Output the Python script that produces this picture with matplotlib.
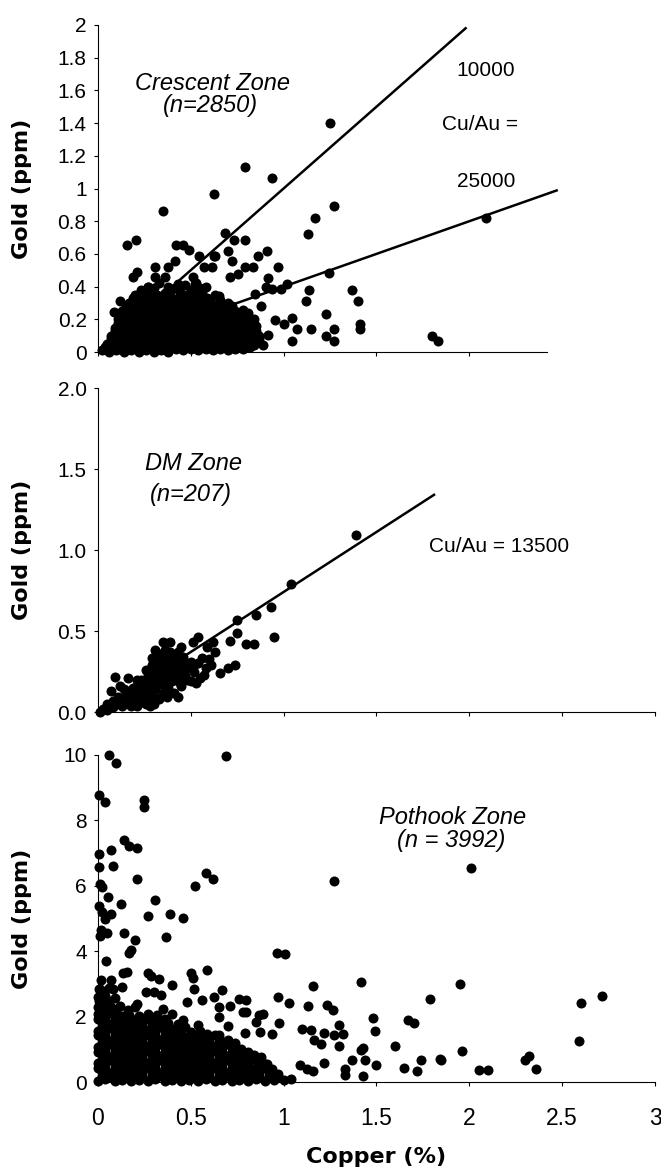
import numpy as np
import matplotlib.pyplot as plt

# Crescent Zone: dense cloud near the origin plus the scattered samples (Cu %, Au ppm)
crescent_core = [
    (0.02, 0.01), (0.06, 0.0), (0.1, 0.01), (0.14, 0.0), (0.18, 0.01), (0.22, 0.0), (0.26, 0.01),
    (0.3, 0.0), (0.34, 0.01), (0.38, 0.0), (0.42, 0.02), (0.46, 0.01), (0.5, 0.02), (0.54, 0.01),
    (0.58, 0.02), (0.62, 0.01), (0.66, 0.02), (0.7, 0.01), (0.74, 0.02), (0.78, 0.02), (0.82, 0.03),
    (0.04, 0.03), (0.08, 0.03), (0.12, 0.02), (0.16, 0.03), (0.2, 0.03), (0.24, 0.02), (0.28, 0.03),
    (0.32, 0.03), (0.36, 0.02), (0.4, 0.03), (0.44, 0.03), (0.48, 0.04), (0.52, 0.03), (0.56, 0.04),
    (0.6, 0.03), (0.64, 0.04), (0.68, 0.03), (0.72, 0.04), (0.76, 0.03), (0.8, 0.04), (0.84, 0.04),
    (0.05, 0.05), (0.09, 0.06), (0.13, 0.05), (0.17, 0.07), (0.21, 0.05), (0.25, 0.06), (0.29, 0.07),
    (0.33, 0.05), (0.37, 0.06), (0.41, 0.07), (0.45, 0.05), (0.49, 0.06), (0.53, 0.07), (0.57, 0.05),
    (0.61, 0.06), (0.65, 0.07), (0.69, 0.06), (0.73, 0.05), (0.77, 0.07), (0.81, 0.06), (0.85, 0.07),
    (0.07, 0.08), (0.11, 0.09), (0.15, 0.08), (0.19, 0.09), (0.23, 0.08), (0.27, 0.09), (0.31, 0.08),
    (0.35, 0.09), (0.39, 0.08), (0.43, 0.09), (0.47, 0.08), (0.51, 0.09), (0.55, 0.08), (0.59, 0.09),
    (0.63, 0.08), (0.67, 0.09), (0.71, 0.08), (0.75, 0.09), (0.79, 0.08), (0.83, 0.09), (0.87, 0.08),
    (0.07, 0.1), (0.11, 0.11), (0.15, 0.12), (0.19, 0.1), (0.23, 0.11), (0.27, 0.12), (0.31, 0.1),
    (0.35, 0.11), (0.39, 0.12), (0.43, 0.1), (0.47, 0.11), (0.51, 0.12), (0.55, 0.1), (0.59, 0.11),
    (0.63, 0.12), (0.67, 0.1), (0.71, 0.11), (0.75, 0.12), (0.79, 0.1), (0.83, 0.11), (0.87, 0.1),
    (0.09, 0.13), (0.13, 0.14), (0.17, 0.13), (0.21, 0.14), (0.25, 0.13), (0.29, 0.14), (0.33, 0.13),
    (0.37, 0.14), (0.41, 0.13), (0.45, 0.14), (0.49, 0.13), (0.53, 0.14), (0.57, 0.13), (0.61, 0.14),
    (0.65, 0.13), (0.69, 0.14), (0.73, 0.13), (0.77, 0.14), (0.81, 0.13), (0.85, 0.13),
    (0.09, 0.15), (0.13, 0.16), (0.17, 0.17), (0.21, 0.15), (0.25, 0.16), (0.29, 0.17), (0.33, 0.15),
    (0.37, 0.16), (0.41, 0.17), (0.45, 0.15), (0.49, 0.16), (0.53, 0.17), (0.57, 0.15), (0.61, 0.16),
    (0.65, 0.17), (0.69, 0.15), (0.73, 0.16), (0.77, 0.17), (0.81, 0.15), (0.85, 0.16),
    (0.11, 0.18), (0.15, 0.19), (0.19, 0.18), (0.23, 0.19), (0.27, 0.18), (0.31, 0.19), (0.35, 0.18),
    (0.39, 0.19), (0.43, 0.18), (0.47, 0.19), (0.51, 0.18), (0.55, 0.19), (0.59, 0.18), (0.63, 0.19),
    (0.67, 0.18), (0.71, 0.19), (0.75, 0.18), (0.79, 0.19), (0.83, 0.18),
    (0.11, 0.2), (0.15, 0.21), (0.19, 0.22), (0.23, 0.2), (0.27, 0.21), (0.31, 0.22), (0.35, 0.2),
    (0.39, 0.21), (0.43, 0.22), (0.47, 0.2), (0.51, 0.21), (0.55, 0.22), (0.59, 0.2), (0.63, 0.21),
    (0.67, 0.22), (0.71, 0.2), (0.75, 0.21), (0.8, 0.22), (0.84, 0.2),
    (0.13, 0.23), (0.17, 0.24), (0.21, 0.23), (0.25, 0.24), (0.29, 0.23), (0.33, 0.24), (0.37, 0.23),
    (0.41, 0.24), (0.45, 0.23), (0.49, 0.24), (0.53, 0.23), (0.57, 0.24), (0.61, 0.23), (0.65, 0.24),
    (0.69, 0.23), (0.73, 0.24), (0.77, 0.23), (0.81, 0.24),
    (0.13, 0.25), (0.17, 0.26), (0.21, 0.27), (0.25, 0.25), (0.29, 0.26), (0.33, 0.27), (0.37, 0.25),
    (0.41, 0.26), (0.45, 0.27), (0.49, 0.25), (0.53, 0.26), (0.57, 0.27), (0.61, 0.25), (0.65, 0.26),
    (0.69, 0.27), (0.74, 0.25), (0.78, 0.26),
    (0.15, 0.28), (0.19, 0.29), (0.23, 0.28), (0.27, 0.29), (0.31, 0.28), (0.35, 0.29), (0.39, 0.28),
    (0.43, 0.29), (0.47, 0.28), (0.51, 0.29), (0.55, 0.28), (0.59, 0.29), (0.63, 0.28), (0.67, 0.29),
    (0.72, 0.28),
    (0.17, 0.3), (0.21, 0.31), (0.25, 0.32), (0.29, 0.3), (0.33, 0.31), (0.37, 0.32), (0.41, 0.3),
    (0.45, 0.31), (0.49, 0.32), (0.53, 0.3), (0.57, 0.31), (0.61, 0.3), (0.66, 0.32), (0.7, 0.3),
    (0.19, 0.33), (0.23, 0.34), (0.27, 0.33), (0.31, 0.34), (0.35, 0.33), (0.39, 0.34), (0.43, 0.33),
    (0.47, 0.34), (0.51, 0.33), (0.55, 0.34), (0.59, 0.33), (0.65, 0.34),
    (0.2, 0.35), (0.24, 0.36), (0.28, 0.37), (0.32, 0.35), (0.36, 0.36), (0.44, 0.37), (0.48, 0.35),
    (0.52, 0.36), (0.56, 0.37), (0.63, 0.35),
    (0.23, 0.38), (0.3, 0.39), (0.42, 0.39), (0.5, 0.38), (0.55, 0.39),
    (0.27, 0.4), (0.33, 0.42), (0.38, 0.4), (0.47, 0.41), (0.53, 0.42), (0.58, 0.4),
]
crescent_outliers = [
    (1.25, 1.40), (0.795, 1.133), (0.94, 1.066), (0.624, 0.964), (0.353, 0.863), (1.27, 0.893),
    (1.17, 0.822), (1.13, 0.72), (2.09, 0.82), (0.157, 0.656), (0.203, 0.686), (0.42, 0.656),
    (0.46, 0.656), (0.49, 0.623), (0.687, 0.727), (0.733, 0.686), (0.795, 0.686), (0.70, 0.62),
    (0.912, 0.62), (0.86, 0.59), (0.544, 0.59), (0.629, 0.59), (0.97, 0.518), (1.247, 0.483),
    (1.136, 0.38), (1.12, 0.31), (1.366, 0.38), (1.40, 0.31), (1.228, 0.233), (1.145, 0.138),
    (1.23, 0.10), (1.27, 0.138), (1.27, 0.065), (1.41, 0.173), (1.41, 0.138), (1.80, 0.10),
    (1.83, 0.065), (1.044, 0.207), (1.07, 0.142), (1.044, 0.065), (1.0, 0.173), (0.956, 0.193),
    (0.917, 0.106), (0.89, 0.04), (1.016, 0.416), (0.986, 0.386), (0.94, 0.386), (0.917, 0.453),
    (0.906, 0.396), (0.848, 0.355), (0.876, 0.284), (0.836, 0.518), (0.79, 0.518), (0.756, 0.477),
    (0.71, 0.457), (0.72, 0.558), (0.617, 0.518), (0.571, 0.518), (0.624, 0.589), (0.797, 0.233),
    (0.82, 0.106), (0.733, 0.112), (0.703, 0.03), (0.664, 0.05), (0.376, 0.518), (0.306, 0.518),
    (0.417, 0.558), (0.364, 0.457), (0.306, 0.457), (0.21, 0.487), (0.19, 0.457), (0.272, 0.396),
    (0.226, 0.355), (0.122, 0.315), (0.088, 0.244), (0.525, 0.416), (0.514, 0.457), (0.433, 0.416),
    (0.40, 0.386),
]

# DM Zone samples
dm_core = [
    (0.01, 0.0), (0.03, 0.02), (0.05, 0.01), (0.05, 0.05), (0.08, 0.03), (0.08, 0.07), (0.1, 0.05),
    (0.11, 0.09), (0.13, 0.04), (0.13, 0.08), (0.15, 0.11), (0.16, 0.06), (0.17, 0.13), (0.19, 0.08),
    (0.2, 0.12), (0.21, 0.16), (0.22, 0.1), (0.23, 0.06), (0.24, 0.14), (0.25, 0.18), (0.26, 0.09),
    (0.27, 0.13), (0.28, 0.21), (0.28, 0.06), (0.29, 0.17), (0.3, 0.1), (0.3, 0.25), (0.31, 0.14),
    (0.32, 0.2), (0.32, 0.28), (0.33, 0.08), (0.34, 0.17), (0.34, 0.24), (0.35, 0.12), (0.35, 0.31),
    (0.36, 0.2), (0.37, 0.27), (0.37, 0.09), (0.38, 0.15), (0.38, 0.34), (0.39, 0.23), (0.4, 0.19),
    (0.4, 0.28), (0.41, 0.12), (0.42, 0.25), (0.42, 0.33), (0.43, 0.2), (0.44, 0.29), (0.45, 0.16),
    (0.45, 0.24), (0.46, 0.34), (0.47, 0.22), (0.48, 0.27), (0.5, 0.31), (0.5, 0.19), (0.52, 0.25),
    (0.54, 0.3), (0.55, 0.21), (0.58, 0.27), (0.6, 0.33), (0.33, 0.36), (0.36, 0.38), (0.31, 0.31),
    (0.27, 0.23), (0.24, 0.08), (0.18, 0.04), (0.21, 0.04), (0.28, 0.04), (0.3, 0.05),
    (0.14, 0.14), (0.19, 0.15), (0.23, 0.2), (0.26, 0.26), (0.29, 0.29), (0.33, 0.32), (0.36, 0.33),
    (0.39, 0.37), (0.43, 0.37), (0.26, 0.15), (0.31, 0.23), (0.35, 0.27), (0.4, 0.24),
    (0.07, 0.04), (0.12, 0.06), (0.18, 0.1), (0.22, 0.13), (0.25, 0.11), (0.28, 0.16), (0.33, 0.19),
    (0.37, 0.22), (0.41, 0.28), (0.44, 0.25), (0.47, 0.3), (0.52, 0.29), (0.2, 0.07), (0.26, 0.05),
]
dm_outliers = [
    (1.39, 1.09), (1.04, 0.79), (0.93, 0.65), (0.85, 0.6), (0.75, 0.565), (0.95, 0.46), (0.80, 0.42),
    (0.84, 0.42), (0.75, 0.49), (0.71, 0.44), (0.62, 0.43), (0.54, 0.46), (0.51, 0.43), (0.59, 0.40),
    (0.63, 0.37), (0.56, 0.335), (0.61, 0.29), (0.57, 0.23), (0.66, 0.24), (0.70, 0.27), (0.74, 0.29),
    (0.53, 0.18), (0.48, 0.20), (0.44, 0.18), (0.43, 0.09), (0.39, 0.43), (0.35, 0.43), (0.45, 0.40),
    (0.41, 0.345), (0.31, 0.38), (0.29, 0.335), (0.09, 0.215), (0.16, 0.21), (0.07, 0.13),
    (0.12, 0.16), (0.21, 0.20), (0.47, 0.29), (0.39, 0.31), (0.36, 0.27), (0.49, 0.27),
]

# Pothook Zone samples
pothook_core = [
    (0.0, 0.04), (0.04, 0.08), (0.09, 0.03), (0.13, 0.07), (0.18, 0.02), (0.22, 0.06), (0.27, 0.04),
    (0.31, 0.08), (0.36, 0.03), (0.4, 0.07), (0.45, 0.02), (0.49, 0.06), (0.54, 0.04), (0.58, 0.08),
    (0.63, 0.03), (0.67, 0.07), (0.72, 0.02), (0.76, 0.06), (0.81, 0.04), (0.85, 0.08), (0.9, 0.03),
    (0.95, 0.07), (1.0, 0.05),
    (0.02, 0.18), (0.06, 0.16), (0.11, 0.19), (0.15, 0.17), (0.2, 0.18), (0.24, 0.16), (0.29, 0.19),
    (0.33, 0.17), (0.38, 0.18), (0.42, 0.16), (0.47, 0.19), (0.51, 0.17), (0.56, 0.18), (0.6, 0.16),
    (0.65, 0.19), (0.69, 0.17), (0.74, 0.18), (0.78, 0.16), (0.83, 0.19), (0.87, 0.17), (0.92, 0.18),
    (0.97, 0.16),
    (0.02, 0.32), (0.06, 0.27), (0.11, 0.33), (0.15, 0.28), (0.2, 0.31), (0.24, 0.26), (0.29, 0.34),
    (0.33, 0.29), (0.38, 0.3), (0.42, 0.27), (0.47, 0.33), (0.51, 0.28), (0.56, 0.31), (0.6, 0.26),
    (0.65, 0.34), (0.69, 0.29), (0.74, 0.3), (0.78, 0.27), (0.83, 0.33), (0.87, 0.28), (0.92, 0.31),
    (0.97, 0.26),
    (0.0, 0.43), (0.04, 0.41), (0.09, 0.44), (0.13, 0.42), (0.18, 0.43), (0.22, 0.41), (0.27, 0.44),
    (0.31, 0.42), (0.36, 0.43), (0.4, 0.41), (0.45, 0.44), (0.49, 0.42), (0.54, 0.43), (0.58, 0.41),
    (0.63, 0.44), (0.67, 0.42), (0.72, 0.43), (0.76, 0.41), (0.81, 0.44), (0.85, 0.42), (0.9, 0.43),
    (0.94, 0.41),
    (0.0, 0.57), (0.04, 0.52), (0.09, 0.58), (0.13, 0.53), (0.18, 0.56), (0.22, 0.51), (0.27, 0.59),
    (0.31, 0.54), (0.36, 0.55), (0.4, 0.52), (0.45, 0.58), (0.49, 0.53), (0.54, 0.56), (0.58, 0.51),
    (0.63, 0.59), (0.67, 0.54), (0.72, 0.55), (0.76, 0.52), (0.81, 0.58), (0.86, 0.53), (0.91, 0.56),
    (0.02, 0.68), (0.06, 0.66), (0.11, 0.69), (0.15, 0.67), (0.2, 0.68), (0.24, 0.66), (0.29, 0.69),
    (0.33, 0.67), (0.38, 0.68), (0.42, 0.66), (0.47, 0.69), (0.51, 0.67), (0.56, 0.68), (0.6, 0.66),
    (0.65, 0.69), (0.69, 0.67), (0.74, 0.68), (0.78, 0.66), (0.83, 0.69), (0.88, 0.67),
    (0.02, 0.82), (0.06, 0.77), (0.11, 0.83), (0.15, 0.78), (0.2, 0.81), (0.24, 0.76), (0.29, 0.84),
    (0.33, 0.79), (0.38, 0.8), (0.42, 0.77), (0.47, 0.83), (0.51, 0.78), (0.56, 0.81), (0.6, 0.76),
    (0.65, 0.84), (0.69, 0.79), (0.74, 0.8), (0.79, 0.77), (0.84, 0.83), (0.88, 0.78),
    (0.0, 0.93), (0.04, 0.91), (0.09, 0.94), (0.13, 0.92), (0.18, 0.93), (0.22, 0.91), (0.27, 0.94),
    (0.31, 0.92), (0.36, 0.93), (0.4, 0.91), (0.45, 0.94), (0.49, 0.92), (0.54, 0.93), (0.58, 0.91),
    (0.63, 0.94), (0.67, 0.92), (0.72, 0.93), (0.76, 0.91), (0.81, 0.93),
    (0.0, 1.07), (0.04, 1.02), (0.09, 1.08), (0.13, 1.03), (0.18, 1.06), (0.22, 1.01), (0.27, 1.09),
    (0.31, 1.04), (0.36, 1.05), (0.4, 1.02), (0.45, 1.08), (0.49, 1.03), (0.54, 1.06), (0.58, 1.01),
    (0.63, 1.09), (0.67, 1.04), (0.72, 1.05), (0.77, 1.02),
    (0.02, 1.18), (0.06, 1.16), (0.11, 1.19), (0.15, 1.17), (0.2, 1.18), (0.24, 1.16), (0.29, 1.19),
    (0.33, 1.17), (0.38, 1.18), (0.42, 1.16), (0.47, 1.19), (0.51, 1.17), (0.56, 1.18), (0.6, 1.16),
    (0.65, 1.19), (0.69, 1.17), (0.74, 1.18),
    (0.02, 1.32), (0.06, 1.27), (0.11, 1.33), (0.15, 1.28), (0.2, 1.31), (0.24, 1.26), (0.29, 1.34),
    (0.33, 1.29), (0.38, 1.3), (0.42, 1.27), (0.47, 1.33), (0.51, 1.28), (0.56, 1.31), (0.6, 1.26),
    (0.65, 1.34), (0.7, 1.29),
    (0.0, 1.43), (0.04, 1.41), (0.09, 1.44), (0.13, 1.42), (0.18, 1.43), (0.22, 1.41), (0.27, 1.44),
    (0.31, 1.42), (0.36, 1.43), (0.4, 1.41), (0.45, 1.44), (0.49, 1.42), (0.54, 1.43), (0.58, 1.41),
    (0.63, 1.43),
    (0.0, 1.57), (0.04, 1.52), (0.09, 1.58), (0.13, 1.53), (0.18, 1.56), (0.22, 1.51), (0.27, 1.59),
    (0.31, 1.54), (0.36, 1.55), (0.4, 1.52), (0.45, 1.58), (0.5, 1.53), (0.55, 1.56),
    (0.02, 1.68), (0.06, 1.66), (0.11, 1.69), (0.15, 1.67), (0.2, 1.68), (0.24, 1.66), (0.29, 1.69),
    (0.33, 1.67), (0.38, 1.68), (0.42, 1.66), (0.47, 1.68),
    (0.02, 1.82), (0.06, 1.77), (0.11, 1.83), (0.15, 1.78), (0.2, 1.81), (0.24, 1.76), (0.29, 1.84),
    (0.33, 1.79), (0.38, 1.8), (0.43, 1.77),
    (0.0, 1.93), (0.04, 1.91), (0.09, 1.94), (0.13, 1.92), (0.18, 1.93), (0.22, 1.91), (0.27, 1.94),
    (0.31, 1.92), (0.36, 1.93),
    (0.0, 2.07), (0.04, 2.02), (0.08, 2.08), (0.13, 2.03), (0.17, 2.06), (0.22, 2.01), (0.27, 2.09),
    (0.32, 2.04),
    (0.0, 2.3), (0.03, 2.35), (0.07, 2.28), (0.12, 2.33), (0.0, 2.6), (0.04, 2.62), (0.09, 2.57),
    (0.01, 2.85), (0.06, 2.88), (0.02, 2.18), (0.05, 2.2), (0.1, 2.16), (0.16, 2.2), (0.02, 2.45),
    (0.06, 2.47), (0.03, 2.72),
]
pothook_outliers = [
    (0.06, 10.0), (0.10, 9.74), (0.69, 9.97), (0.007, 8.78), (0.04, 8.57), (0.25, 8.62), (0.25, 8.42),
    (0.14, 7.4), (0.17, 7.21), (0.21, 7.16), (0.007, 6.96), (0.07, 7.09), (0.007, 6.56), (0.08, 6.6),
    (0.01, 6.07), (0.02, 5.97), (0.21, 6.2), (0.58, 6.4), (0.62, 6.22), (0.525, 6.0), (1.27, 6.16),
    (2.01, 6.53), (0.057, 5.66), (0.007, 5.39), (0.125, 5.44), (0.31, 5.56), (0.02, 5.2), (0.07, 5.15),
    (0.036, 5.0), (0.27, 5.08), (0.39, 5.15), (0.457, 5.02), (0.018, 4.64), (0.014, 4.46),
    (0.05, 4.56), (0.143, 4.56), (0.2, 4.34), (0.366, 4.42), (0.166, 3.95), (0.18, 4.03),
    (0.045, 3.7), (0.966, 3.96), (1.007, 3.9), (1.416, 3.07), (1.95, 3.0), (2.716, 2.62),
    (2.6, 2.42), (2.59, 1.24), (1.157, 2.93), (1.79, 2.54), (1.03, 2.42), (0.968, 2.6), (1.13, 2.32),
    (1.234, 2.35), (1.266, 2.21), (1.48, 1.97), (1.49, 1.55), (1.67, 1.89), (1.70, 1.81),
    (1.30, 1.73), (1.32, 1.48), (1.10, 1.62), (1.146, 1.6), (1.218, 1.5), (1.27, 1.43),
    (1.166, 1.28), (1.2, 1.17), (1.30, 1.09), (1.43, 1.04), (1.416, 0.97), (1.60, 1.09),
    (1.96, 0.94), (1.366, 0.68), (1.44, 0.66), (1.495, 0.53), (1.65, 0.44), (1.72, 0.33),
    (1.74, 0.68), (1.84, 0.71), (1.85, 0.66), (2.05, 0.36), (2.10, 0.36), (2.3, 0.66), (2.32, 0.8),
    (2.36, 0.41), (1.33, 0.41), (1.33, 0.22), (1.43, 0.17), (1.125, 0.41), (1.157, 0.33),
    (1.216, 0.58), (1.04, 0.1), (1.09, 0.51),
    (0.007, 2.48), (0.007, 2.86), (0.018, 3.13), (0.07, 3.13), (0.08, 2.86), (0.136, 3.32),
    (0.155, 3.37), (0.13, 2.9), (0.27, 3.32), (0.285, 3.23), (0.33, 3.14), (0.4, 2.98), (0.5, 3.32),
    (0.51, 3.19), (0.59, 3.42), (0.26, 2.76), (0.3, 2.76), (0.34, 2.65), (0.21, 2.4), (0.2, 2.3),
    (0.35, 2.24), (0.4, 2.09), (0.46, 1.89), (0.52, 2.86), (0.67, 2.8), (0.56, 2.5), (0.625, 2.6),
    (0.655, 2.3), (0.71, 2.33), (0.76, 2.55), (0.8, 2.5), (0.78, 2.14), (0.8, 2.14), (0.89, 2.09),
    (0.87, 2.04), (0.85, 1.84), (0.975, 1.81), (0.94, 1.48), (0.875, 1.52), (0.79, 1.51),
    (0.7, 1.71), (0.655, 1.43), (0.59, 1.48), (0.54, 1.73), (0.655, 1.99), (0.48, 2.45),
]

# Cu/Au reference lines (ratio, x end of line)
crescent_ratios = [10000, 25000]
crescent_line_ends = [1.98, 2.47]
dm_ratio = 13500
dm_line_end = 1.81

# tick labels
crescent_yticks = [0, 0.2, 0.4, 0.6, 0.8, 1, 1.2, 1.4, 1.6, 1.8, 2]
crescent_ylabels = ['0', '0.2', '0.4', '0.6', '0.8', '1', '1.2', '1.4', '1.6', '1.8', '2']
dm_yticks = [0, 0.5, 1.0, 1.5, 2.0]
dm_ylabels = ['0.0', '0.5', '1.0', '1.5', '2.0']
pothook_yticks = [0, 2, 4, 6, 8, 10]
cu_ticks = [0, 0.5, 1, 1.5, 2, 2.5, 3]
cu_labels = ['0', '0.5', '1', '1.5', '2', '2.5', '3']

plt.rcParams['font.family'] = ['Liberation Sans', 'DejaVu Sans']


def style_axes(ax, ymax, yticks, ylabels, xend):
    ax.set_xlim(0, 3)
    ax.set_ylim(0, ymax)
    for side in ['top', 'right']:
        ax.spines[side].set_visible(False)
    for side in ['left', 'bottom']:
        ax.spines[side].set_linewidth(0.8)
    ax.spines['bottom'].set_bounds(0, xend)
    ax.set_yticks(yticks)
    ax.set_yticklabels(ylabels)
    ax.set_xticks([t for t in cu_ticks if t <= xend])
    ax.tick_params(axis='y', direction='out', length=3, width=0.8, labelsize=15, pad=5)
    ax.tick_params(axis='x', direction='out', length=3, width=0.8, labelsize=16.5, pad=15)
    ax.set_ylabel('Gold (ppm)', family='DejaVu Sans', fontweight='bold', fontsize=16)
    ax.yaxis.set_label_coords(-0.118, 0.5)


def draw_points(ax, pts):
    pts = np.array(pts)
    ax.scatter(pts[:, 0], pts[:, 1], s=52, c='black', linewidths=0, clip_on=False, zorder=3)


fig = plt.figure(figsize=(6.61, 11.68), dpi=100)

# --- Crescent Zone ---
ax1 = fig.add_axes([0.148, 0.6986, 0.843, 0.28])
draw_points(ax1, crescent_core)
draw_points(ax1, crescent_outliers)
for ratio, xend in zip(crescent_ratios, crescent_line_ends):
    xs = np.array([0, xend])
    ax1.plot(xs, xs * 10000 / ratio, color='black', lw=1.8, zorder=2)
style_axes(ax1, 2, crescent_yticks, crescent_ylabels, 2.42)
ax1.set_xticklabels([])
ax1.text(0.617, 1.645, 'Crescent Zone', style='italic', fontsize=17, ha='center', va='center')
ax1.text(0.606, 1.51, '(n=2850)', style='italic', fontsize=17, ha='center', va='center')
ax1.text(2.09, 1.72, '10000', fontsize=15, ha='center', va='center')
ax1.text(2.06, 1.39, 'Cu/Au =', fontsize=15, ha='center', va='center')
ax1.text(2.09, 1.04, '25000', fontsize=15, ha='center', va='center')

# --- DM Zone ---
ax2 = fig.add_axes([0.148, 0.3904, 0.843, 0.2774])
draw_points(ax2, dm_core)
draw_points(ax2, dm_outliers)
xs = np.array([0, dm_line_end])
ax2.plot(xs, xs * 10000 / dm_ratio, color='black', lw=1.8, zorder=2)
style_axes(ax2, 2, dm_yticks, dm_ylabels, 3)
ax2.set_xticklabels([])
ax2.text(0.514, 1.535, 'DM Zone', style='italic', fontsize=17, ha='center', va='center')
ax2.text(0.50, 1.34, '(n=207)', style='italic', fontsize=17, ha='center', va='center')
ax2.text(2.16, 1.02, 'Cu/Au = 13500', fontsize=15, ha='center', va='center')

# --- Pothook Zone ---
ax3 = fig.add_axes([0.148, 0.0736, 0.843, 0.28])
draw_points(ax3, pothook_core)
draw_points(ax3, pothook_outliers)
style_axes(ax3, 10, pothook_yticks, [str(t) for t in pothook_yticks], 3)
ax3.set_xticklabels(cu_labels)
ax3.text(1.91, 8.09, 'Pothook Zone', style='italic', fontsize=17, ha='center', va='center')
ax3.text(1.90, 7.4, '(n = 3992)', style='italic', fontsize=17, ha='center', va='center')
ax3.set_xlabel('Copper (%)', family='DejaVu Sans', fontweight='bold', fontsize=16)
ax3.xaxis.set_label_coords(0.5, -0.2)

fig.savefig('out.png', dpi=100)
